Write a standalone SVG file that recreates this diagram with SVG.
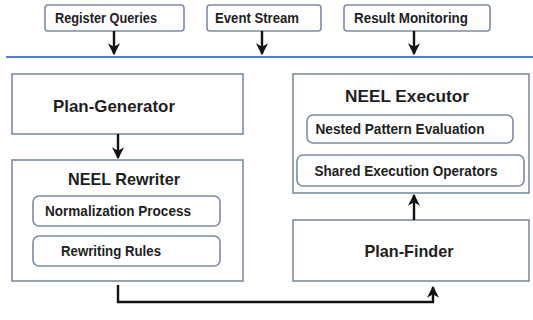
<svg xmlns="http://www.w3.org/2000/svg" width="533" height="320" viewBox="0 0 533 320">
<defs>
<style>
.box{fill:#ffffff;stroke:#7d8ba3;stroke-width:1.6}
.rbox{fill:#ffffff;stroke:#7d8ba3;stroke-width:1.6}
.t{font-family:"Liberation Sans",Arial,sans-serif;font-weight:bold;fill:#1e1e1e}
.conn{fill:none;stroke:#111;stroke-width:2.4}
</style>
<marker id="ah" viewBox="0 0 10 10" refX="9" refY="5" markerWidth="5" markerHeight="5" orient="auto" markerUnits="strokeWidth">
<path d="M0,0 L10,5 L0,10 L3,5 Z" fill="#111"/>
</marker>
</defs>
<rect width="533" height="320" fill="#ffffff"/>
<line x1="6" y1="57" x2="533" y2="57" stroke="#5b7fcf" stroke-width="2"/>
<g id="register-queries">
<rect class="rbox" x="45" y="5" width="139" height="26" rx="3"/>
<text class="t" x="106" y="23" font-size="14" text-anchor="middle" textLength="102" lengthAdjust="spacingAndGlyphs">Register Queries</text>
</g>
<g id="event-stream">
<rect class="rbox" x="207" y="5" width="114" height="26" rx="3"/>
<text class="t" x="257" y="23" font-size="14" text-anchor="middle" textLength="84" lengthAdjust="spacingAndGlyphs">Event Stream</text>
</g>
<g id="result-monitoring">
<rect class="rbox" x="344" y="5" width="146" height="26" rx="3"/>
<text class="t" x="411" y="23" font-size="14" text-anchor="middle" textLength="114" lengthAdjust="spacingAndGlyphs">Result Monitoring</text>
</g>
<g id="plan-generator">
<rect class="box" x="12" y="74" width="231" height="60"/>
<text class="t" x="114" y="112" font-size="17" text-anchor="middle" textLength="122" lengthAdjust="spacingAndGlyphs">Plan-Generator</text>
</g>
<g id="neel-rewriter">
<rect class="box" x="12" y="160" width="231" height="121"/>
<text class="t" x="124" y="185" font-size="17" text-anchor="middle" textLength="112" lengthAdjust="spacingAndGlyphs">NEEL Rewriter</text>
<rect class="rbox" x="33" y="196" width="187" height="30" rx="6"/>
<text class="t" x="118" y="216" font-size="14" text-anchor="middle" textLength="146" lengthAdjust="spacingAndGlyphs">Normalization Process</text>
<rect class="rbox" x="33" y="236" width="187" height="30" rx="6"/>
<text class="t" x="111" y="256" font-size="14" text-anchor="middle" textLength="100" lengthAdjust="spacingAndGlyphs">Rewriting Rules</text>
</g>
<g id="neel-executor">
<rect class="box" x="293" y="74" width="236" height="119"/>
<text class="t" x="407" y="102" font-size="17" text-anchor="middle" textLength="124" lengthAdjust="spacingAndGlyphs">NEEL Executor</text>
<rect class="rbox" x="307" y="115" width="206" height="28" rx="6"/>
<text class="t" x="400" y="134" font-size="14" text-anchor="middle" textLength="169" lengthAdjust="spacingAndGlyphs">Nested Pattern Evaluation</text>
<rect class="rbox" x="297" y="155" width="227" height="31" rx="6"/>
<text class="t" x="406" y="176" font-size="14" text-anchor="middle" textLength="183" lengthAdjust="spacingAndGlyphs">Shared Execution Operators</text>
</g>
<g id="plan-finder">
<rect class="box" x="293" y="220" width="236" height="61"/>
<text class="t" x="409" y="257" font-size="17" text-anchor="middle" textLength="89" lengthAdjust="spacingAndGlyphs">Plan-Finder</text>
</g>
<g id="connectors">
<line class="conn" x1="114" y1="31" x2="114" y2="54" marker-end="url(#ah)"/>
<line class="conn" x1="262" y1="31" x2="262" y2="54" marker-end="url(#ah)"/>
<line class="conn" x1="414" y1="31" x2="414" y2="54" marker-end="url(#ah)"/>
<line class="conn" x1="118" y1="134" x2="118" y2="158" marker-end="url(#ah)"/>
<line class="conn" x1="414" y1="220" x2="414" y2="195" marker-end="url(#ah)"/>
<polyline class="conn" points="118,285 118,302 433,302 433,287" marker-end="url(#ah)"/>
</g>
</svg>
